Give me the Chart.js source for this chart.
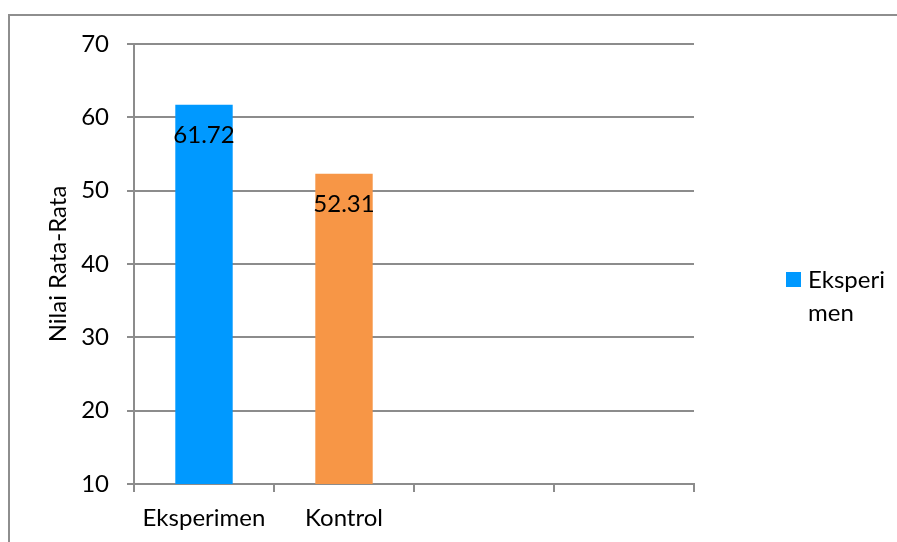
<!DOCTYPE html>
<html>
<head>
<meta charset="utf-8">
<script src="https://cdn.jsdelivr.net/npm/chart.js@4/dist/chart.umd.min.js"></script>
<style>
  html, body { margin: 0; padding: 0; background: #fff; }
  #wrap { width: 897px; height: 542px; }
</style>
</head>
<body>
<div id="wrap"><canvas id="nilai_chart"></canvas></div>
<script>
var kelompok = ['Eksperimen', 'Kontrol', '', ''];
var nilai_rata = [61.72, 52.31, null, null];
var warna_bar = ['#0099ff', '#f79646'];
var legend_text = ['Eksperi', 'men'];
var y_title = 'Nilai Rata-Rata';

var font_name = 'Lato, "Open Sans", sans-serif';
var grid_colour = '#8c8c8c';

// grey frame round the whole chart (runs off right and bottom edges)
var frame_plugin = {
    id: 'frame',
    beforeDraw: function(chart) {
        var ctx = chart.ctx;
        ctx.save();
        ctx.strokeStyle = '#8e8e8e';
        ctx.lineWidth = 2;
        ctx.strokeRect(9, 15, 1000, 1000);
        ctx.restore();
    }
};

// value written inside the top of each bar
var value_plugin = {
    id: 'values',
    afterDatasetsDraw: function(chart) {
        var ctx = chart.ctx;
        var meta = chart.getDatasetMeta(0);
        ctx.save();
        ctx.font = '24px ' + font_name;
        ctx.fillStyle = '#000';
        ctx.textAlign = 'center';
        ctx.textBaseline = 'middle';
        for (var i = 0; i < meta.data.length; i++) {
            if (nilai_rata[i] === null) continue;
            var bar = meta.data[i];
            ctx.fillText(nilai_rata[i].toFixed(2), bar.x, bar.y + 31);
        }
        ctx.restore();
    }
};

// legend on the right, text wrapped on two lines
var legend_plugin = {
    id: 'side_legend',
    afterDraw: function(chart) {
        var ctx = chart.ctx;
        var area = chart.chartArea;
        var x0 = area.right + 92, y0 = 272;
        ctx.save();
        ctx.fillStyle = warna_bar[0];
        ctx.fillRect(x0, y0, 15, 15);
        ctx.font = '24px ' + font_name;
        ctx.fillStyle = '#000';
        ctx.textAlign = 'left';
        ctx.textBaseline = 'middle';
        for (var i = 0; i < legend_text.length; i++) {
            ctx.fillText(legend_text[i], x0 + 22, y0 + 8 + i * 33);
        }
        ctx.restore();
    }
};

var ctx = document.getElementById('nilai_chart').getContext('2d');
var nilaichart = new Chart(ctx, {
    type: 'bar',
    data: {
        labels: kelompok,
        datasets: [{
            label: 'Eksperimen',
            data: nilai_rata,
            backgroundColor: warna_bar,
            barPercentage: 0.41,
            categoryPercentage: 1.0
        }]
    },
    options: {
        responsive: true,
        maintainAspectRatio: false,
        animation: false,
        layout: {
            padding: { left: 40, top: 44, right: 203, bottom: 0 }
        },
        plugins: {
            legend: { display: false },
            tooltip: { enabled: false }
        },
        scales: {
            x: {
                offset: true,
                grid: {
                    offset: true,
                    drawOnChartArea: false,
                    drawTicks: true,
                    tickLength: 8,
                    color: grid_colour,
                    lineWidth: 2
                },
                border: { color: grid_colour, width: 2 },
                ticks: {
                    color: '#000',
                    font: { family: font_name, size: 24 },
                    padding: 12,
                    maxRotation: 0,
                    autoSkip: false
                },
                afterFit: function(scale) { scale.height = 58; }
            },
            y: {
                min: 10,
                max: 70,
                ticks: {
                    stepSize: 10,
                    color: '#000',
                    font: { family: font_name, size: 24 },
                    padding: 18
                },
                grid: {
                    color: grid_colour,
                    lineWidth: 2,
                    tickLength: 7
                },
                border: { color: grid_colour, width: 2 },
                title: {
                    display: true,
                    text: y_title,
                    color: '#000',
                    font: { family: font_name, size: 24 },
                    padding: { top: 4, bottom: 0 }
                },
                afterFit: function(scale) { scale.width = 94; }
            }
        }
    },
    plugins: [frame_plugin, value_plugin, legend_plugin]
});
</script>
</body>
</html>
